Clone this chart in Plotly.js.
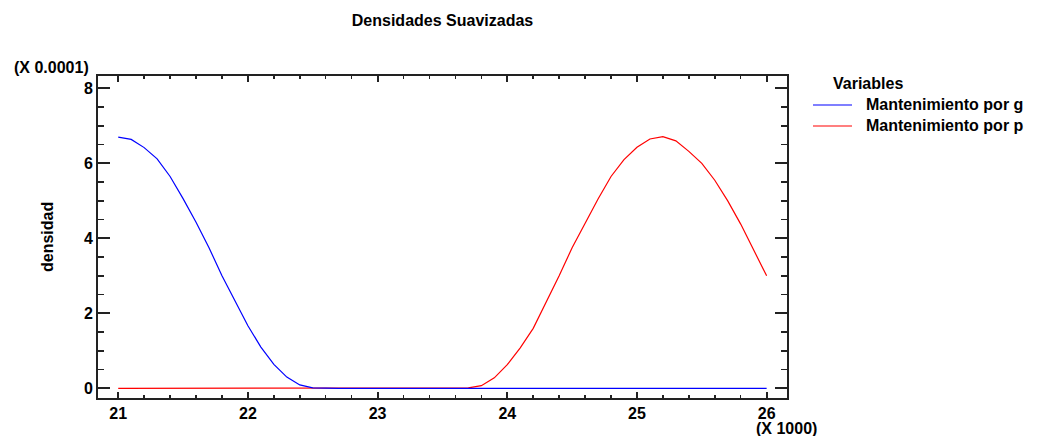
<!DOCTYPE html>
<html>
<head>
<meta charset="utf-8">
<script src="https://cdn.plot.ly/plotly-3.0.1.min.js"></script>
<style>html,body{margin:0;padding:0;background:#fff;}#chart{width:1037px;height:436px;}</style>
</head>
<body>
<div id="chart"></div>
<script>
// x in thousands (X 1000), density in units of 0.0001
var xValues = [21.0,21.1,21.2,21.3,21.4,21.5,21.6,21.7,21.8,21.9,
               22.0,22.1,22.2,22.3,22.4,22.5,22.6,22.7,22.8,22.9,
               23.0,23.1,23.2,23.3,23.4,23.5,23.6,23.7,23.8,23.9,
               24.0,24.1,24.2,24.3,24.4,24.5,24.6,24.7,24.8,24.9,
               25.0,25.1,25.2,25.3,25.4,25.5,25.6,25.7,25.8,25.9,26.0];
var densGasolina = [6.70,6.64,6.42,6.12,5.65,5.06,4.43,3.75,3.00,2.32,
                    1.67,1.10,0.64,0.30,0.09,0.01,0,0,0,0,
                    0,0,0,0,0,0,0,0,0,0,
                    0,0,0,0,0,0,0,0,0,0,
                    0,0,0,0,0,0,0,0,0,0,0];
var densOtro = [0,0,0,0,0,0,0,0,0,0,
                0,0,0,0,0,0,0,0,0,0,
                0,0,0,0,0,0,0,0.01,0.07,0.28,
                0.63,1.08,1.60,2.28,3.00,3.75,4.40,5.05,5.65,6.10,
                6.43,6.65,6.71,6.60,6.32,6.00,5.55,5.00,4.38,3.68,3.00];
var seriesNames = ["Mantenimiento por g", "Mantenimiento por p"];
var seriesColors = ["#0000ff", "#ff0000"];
var xTickVals = [21,22,23,24,25,26];
var yTickVals = [0,2,4,6,8];

var FONT = "Liberation Sans, Arial, Helvetica, sans-serif";
var f16 = {family: FONT, size: 16, color: "#000", weight: 700};
var L = 98, R = 787, T = 76, B = 398, W = 1037, H = 436;
function px(x){ return (x - L) / (R - L); }
function py(y){ return (B - y) / (B - T); }

var traces = [
  {x: xValues, y: densOtro, type: "scatter", mode: "lines", name: seriesNames[1],
   line: {color: seriesColors[1], width: 1.2}, showlegend: false},
  {x: xValues, y: densGasolina, type: "scatter", mode: "lines", name: seriesNames[0],
   line: {color: seriesColors[0], width: 1.2}, showlegend: false}
];

var axisColor = "#222";
var layout = {
  width: W, height: H,
  margin: {l: L, r: W - R, t: T, b: H - B, pad: 0},
  paper_bgcolor: "#fff", plot_bgcolor: "#fff",
  showlegend: false,
  title: {text: "Densidades Suavizadas", font: f16, x: 0.5, xref: "paper",
          y: 1 - 20/H, yref: "container", yanchor: "middle"},
  xaxis: {
    range: [20.844, 26.157], showgrid: false, zeroline: false,
    showline: true, linecolor: axisColor, linewidth: 2, mirror: "ticks",
    tickmode: "array", tickvals: xTickVals, ticktext: xTickVals.map(String),
    ticks: "inside", ticklen: 6, tickwidth: 2, tickcolor: axisColor,
    minor: {tickmode: "linear", tick0: 21, dtick: 0.2, ticks: "inside", ticklen: 3, tickwidth: 1.5, tickcolor: axisColor},
    tickfont: f16
  },
  yaxis: {
    range: [-0.258, 8.33], showgrid: false, zeroline: false,
    showline: true, linecolor: axisColor, linewidth: 2, mirror: "ticks",
    tickmode: "array", tickvals: yTickVals, ticktext: yTickVals.map(String),
    ticks: "inside", ticklen: 12, tickwidth: 2, tickcolor: axisColor,
    minor: {tickmode: "linear", tick0: 0, dtick: 0.5, ticks: "inside", ticklen: 6, tickwidth: 1.5, tickcolor: axisColor},
    tickfont: f16
  },
  shapes: [
    {type: "line", xref: "paper", yref: "paper", x0: px(813), x1: px(852), y0: py(105), y1: py(105),
     line: {color: seriesColors[0], width: 1.2}},
    {type: "line", xref: "paper", yref: "paper", x0: px(813), x1: px(852), y0: py(126), y1: py(126),
     line: {color: seriesColors[1], width: 1.2}}
  ],
  annotations: [
    {text: "(X 0.0001)", xref: "paper", yref: "paper", x: px(12), y: py(67), xanchor: "left", yanchor: "middle", showarrow: false, font: f16},
    {text: "(X 1000)", xref: "paper", yref: "paper", x: px(754), y: py(428), xanchor: "left", yanchor: "middle", showarrow: false, font: f16},
    {text: "densidad", xref: "paper", yref: "paper", x: px(47), y: 0.5, xanchor: "center", yanchor: "middle", textangle: -90, showarrow: false, font: f16},
    {text: "Variables", xref: "paper", yref: "paper", x: px(831), y: py(83), xanchor: "left", yanchor: "middle", showarrow: false, font: f16},
    {text: seriesNames[0], xref: "paper", yref: "paper", x: px(864), y: py(104), xanchor: "left", yanchor: "middle", showarrow: false, font: f16},
    {text: seriesNames[1], xref: "paper", yref: "paper", x: px(864), y: py(125), xanchor: "left", yanchor: "middle", showarrow: false, font: f16}
  ]
};

Plotly.newPlot("chart", traces, layout, {staticPlot: true, displayModeBar: false});
</script>
</body>
</html>
